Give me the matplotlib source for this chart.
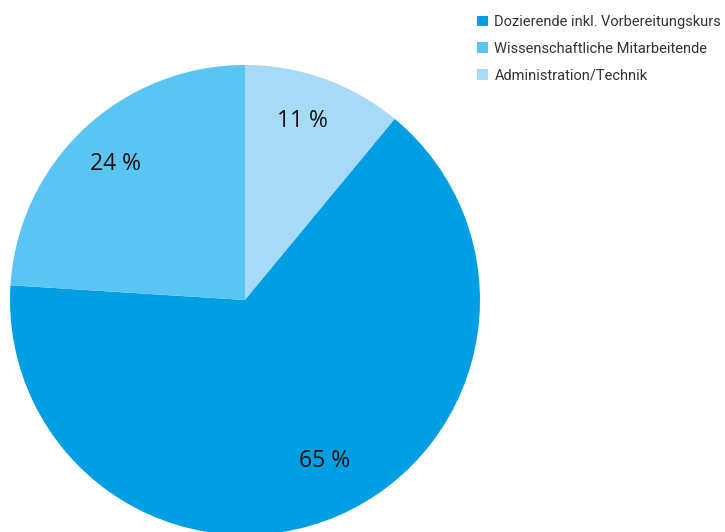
import numpy as np
import matplotlib.pyplot as plt
from matplotlib.patches import Patch

kategorien = ['Administration/Technik', 'Dozierende inkl. Vorbereitungskurs', 'Wissenschaftliche Mitarbeitende']
anteile = [11, 65, 24]
farben = ['#A7DAF7', '#009FE3', '#5AC5F2']
legende_reihenfolge = [1, 2, 0]

# Beschriftungsposition je Segment: (Abstand vom Mittelpunkt, Winkel ab 12 Uhr im Uhrzeigersinn)
label_pos = [(0.80, 17.8), (0.765, 153.7), (0.80, -43.7)]

fig = plt.figure(figsize=(7.25, 5.32), dpi=100)
ax = fig.add_axes([0, 0, 1, 1])

wedges, texts, autotexts = ax.pie(
    anteile, colors=farben, startangle=90, counterclock=False,
    autopct=lambda p: '%d %%' % round(p), pctdistance=0.8)

for t, (d, w) in zip(autotexts, label_pos):
    t.set_position((d * np.sin(np.radians(w)), d * np.cos(np.radians(w))))
    t.set_fontfamily('Open Sans')
    t.set_fontsize(16.5)
    t.set_color('#111111')

# Pixelraster: Mittelpunkt (245, 300), Radius 235 px
r = 235.0
ax.set_xlim(-245 / r, (725 - 245) / r)
ax.set_ylim(-(532 - 300) / r, 300 / r)
ax.set_aspect('auto')
ax.axis('off')

handles = [Patch(facecolor=farben[i], edgecolor='none') for i in legende_reihenfolge]
labels = [kategorien[i] for i in legende_reihenfolge]
fig.legend(handles, labels, loc='upper left', bbox_to_anchor=(477 / 725, 1 - 15 / 532),
           frameon=False, handlelength=0.75, handleheight=0.75, handletextpad=0.45,
           labelspacing=0.88, borderaxespad=0, borderpad=0,
           prop={'family': 'Roboto', 'size': 10.5}, labelcolor='#333333')

plt.savefig('out.png', dpi=100)
